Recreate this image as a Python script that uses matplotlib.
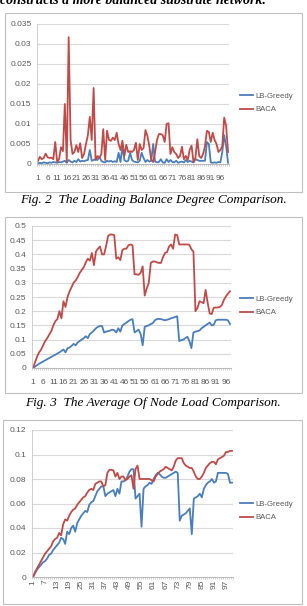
import numpy as np
import matplotlib
matplotlib.use("Agg")
import matplotlib.pyplot as plt
from matplotlib.patches import Rectangle

W, H = 307, 606

# Fig. 2 - loading balance degree (100 runs)
lbd_greedy = [0.0002,0.0003,0.0002,0.0004,0.0003,0.0002,0.0004,0.0003,0.0005,0.0004,
              0.0003,0.0005,0.0004,0.0006,0.0008,0.0003,0.0010,0.0006,0.0004,0.0008,
              0.0005,0.0012,0.0006,0.0008,0.0007,0.0009,0.0010,0.0035,0.0008,0.0010,
              0.0012,0.0010,0.0018,0.0008,0.0005,0.0004,0.0008,0.0006,0.0008,0.0005,
              0.0007,0.0005,0.0028,0.0005,0.0045,0.0010,0.0006,0.0008,0.0028,0.0010,
              0.0006,0.0005,0.0004,0.0008,0.0028,0.0015,0.0005,0.0010,0.0006,0.0008,
              0.0050,0.0006,0.0004,0.0005,0.0012,0.0004,0.0003,0.0012,0.0005,0.0010,
              0.0005,0.0004,0.0008,0.0003,0.0005,0.0006,0.0004,0.0010,0.0005,0.0008,
              0.0006,0.0004,0.0012,0.0010,0.0008,0.0008,0.0008,0.0008,0.0055,0.0050,
              0.0004,0.0003,0.0004,0.0003,0.0005,0.0004,0.0030,0.0072,0.0045,0.0003]
lbd_baca = [0.0008,0.0018,0.0012,0.0015,0.0026,0.0017,0.0015,0.0016,0.0012,0.0055,
            0.0005,0.0012,0.0042,0.0032,0.0150,0.0005,0.0317,0.0060,0.0025,0.0030,
            0.0047,0.0030,0.0052,0.0015,0.0025,0.0050,0.0072,0.0118,0.0060,0.0190,
            0.0010,0.0020,0.0015,0.0025,0.0087,0.0010,0.0083,0.0060,0.0058,0.0066,
            0.0060,0.0078,0.0050,0.0035,0.0058,0.0020,0.0048,0.0030,0.0032,0.0030,
            0.0035,0.0053,0.0010,0.0050,0.0035,0.0040,0.0085,0.0070,0.0045,0.0010,
            0.0005,0.0030,0.0060,0.0075,0.0075,0.0072,0.0055,0.0100,0.0102,0.0025,
            0.0042,0.0030,0.0025,0.0015,0.0020,0.0043,0.0012,0.0020,0.0010,0.0035,
            0.0046,0.0005,0.0015,0.0062,0.0020,0.0015,0.0025,0.0045,0.0083,0.0080,
            0.0055,0.0078,0.0060,0.0050,0.0030,0.0035,0.0045,0.0116,0.0095,0.0030]

# Fig. 3 - average node load (98 runs)
avg_greedy = [0.000,0.005,0.010,0.015,0.019,0.023,0.027,0.031,0.035,0.039,
              0.043,0.047,0.051,0.055,0.060,0.065,0.055,0.070,0.072,0.078,
              0.085,0.080,0.090,0.095,0.100,0.105,0.112,0.105,0.120,0.125,
              0.132,0.140,0.145,0.148,0.148,0.125,0.128,0.130,0.132,0.135,
              0.133,0.125,0.140,0.128,0.150,0.155,0.160,0.165,0.170,0.172,
              0.125,0.130,0.135,0.120,0.080,0.145,0.148,0.150,0.155,0.158,
              0.168,0.172,0.173,0.172,0.170,0.168,0.170,0.172,0.175,0.177,
              0.180,0.182,0.095,0.098,0.100,0.105,0.110,0.095,0.070,0.125,
              0.128,0.130,0.132,0.140,0.145,0.150,0.155,0.160,0.150,0.152,
              0.168,0.170,0.170,0.170,0.170,0.170,0.168,0.155]
avg_baca = [0.000,0.020,0.040,0.055,0.065,0.080,0.095,0.105,0.118,0.130,
            0.150,0.165,0.172,0.200,0.175,0.235,0.215,0.250,0.270,0.285,
            0.300,0.308,0.320,0.335,0.345,0.355,0.372,0.385,0.378,0.405,
            0.362,0.410,0.420,0.428,0.400,0.400,0.430,0.465,0.470,0.470,
            0.468,0.385,0.390,0.380,0.415,0.420,0.420,0.432,0.435,0.432,
            0.330,0.330,0.328,0.335,0.358,0.255,0.280,0.300,0.370,0.375,
            0.375,0.372,0.370,0.370,0.390,0.405,0.408,0.428,0.435,0.420,
            0.470,0.468,0.435,0.435,0.435,0.435,0.435,0.434,0.418,0.410,
            0.200,0.212,0.235,0.232,0.228,0.275,0.230,0.192,0.190,0.212,
            0.213,0.213,0.215,0.222,0.240,0.252,0.262,0.270]

# third comparison (100 runs)
c3_greedy = [0.000,0.003,0.006,0.008,0.010,0.012,0.013,0.015,0.018,0.019,
             0.022,0.024,0.026,0.028,0.032,0.031,0.027,0.037,0.035,0.040,
             0.042,0.037,0.044,0.047,0.050,0.052,0.054,0.053,0.059,0.061,
             0.062,0.066,0.070,0.072,0.074,0.074,0.066,0.068,0.069,0.070,
             0.071,0.066,0.072,0.068,0.078,0.078,0.079,0.082,0.086,0.088,
             0.088,0.064,0.066,0.068,0.041,0.072,0.074,0.075,0.077,0.076,
             0.080,0.083,0.085,0.084,0.082,0.081,0.081,0.082,0.083,0.084,
             0.085,0.086,0.085,0.046,0.050,0.051,0.052,0.054,0.056,0.035,
             0.064,0.065,0.066,0.068,0.065,0.072,0.075,0.077,0.078,0.080,
             0.077,0.078,0.085,0.085,0.085,0.085,0.085,0.084,0.077,0.077]
c3_baca = [0.000,0.004,0.007,0.010,0.013,0.016,0.019,0.021,0.023,0.025,
           0.029,0.031,0.032,0.036,0.034,0.043,0.047,0.046,0.050,0.053,
           0.055,0.056,0.059,0.061,0.063,0.065,0.066,0.069,0.071,0.072,
           0.071,0.076,0.077,0.078,0.078,0.074,0.075,0.085,0.0875,0.0875,
           0.087,0.082,0.085,0.080,0.082,0.082,0.079,0.080,0.082,0.083,
           0.072,0.088,0.091,0.080,0.080,0.080,0.080,0.080,0.080,0.079,
           0.078,0.082,0.084,0.086,0.087,0.088,0.090,0.089,0.088,0.087,
           0.090,0.095,0.097,0.097,0.097,0.093,0.091,0.090,0.089,0.089,
           0.086,0.082,0.080,0.080,0.082,0.085,0.089,0.091,0.093,0.094,
           0.094,0.092,0.096,0.097,0.098,0.099,0.102,0.102,0.103,0.103]

series_names = ["LB-Greedy", "BACA"]
captions = ["Fig. 2  The Loading Balance Degree Comparison.",
            "Fig. 3  The Average Of Node Load Comparison."]

BLUE = "#4a7ebb"
RED = "#be4b48"
GRID = "#d9d9d9"
TXT = "#595959"
SANS = "Liberation Sans"
SERIF = "Liberation Serif"

fig = plt.figure(figsize=(W / 100, H / 100), dpi=100)
fig.patch.set_facecolor("white")


def px_axes(x0, y0, x1, y1):
    # pixel box (top-left origin) -> figure axes
    return fig.add_axes([x0 / W, 1 - y1 / H, (x1 - x0) / W, (y1 - y0) / H])


def frame(x0, y0, x1, y1):
    fig.patches.append(Rectangle((x0 / W, 1 - y1 / H), (x1 - x0) / W, (y1 - y0) / H,
                                 transform=fig.transFigure, fill=False,
                                 edgecolor="#bfbfbf", lw=0.8))


def draw_chart(box, greedy, baca, ymax, ystep, tick_step, rot, xpad, leg_y):
    ax = px_axes(*box)
    n = len(greedy)
    x = np.arange(1, n + 1)
    ax.plot(x, greedy, color=BLUE, lw=1.3, label=series_names[0])
    ax.plot(x, baca, color=RED, lw=1.3, label=series_names[1])
    ax.set_xlim(0.5, n + 0.5)
    ax.set_ylim(0, ymax)
    yt = np.arange(0, ymax + ystep / 2, ystep)
    ax.set_yticks(yt)
    ax.set_yticklabels(["0" if v == 0 else f"{v:g}" for v in yt],
                       fontsize=6, family=SANS, color=TXT)
    xt = np.arange(1, n + 1, tick_step)
    ax.set_xticks(xt)
    ax.set_xticklabels([str(v) for v in xt], fontsize=6, family=SANS, color=TXT,
                       rotation=rot)
    ax.set_xticks(np.arange(0.5, n + 1, 1), minor=True)
    ax.tick_params(axis="x", which="minor", length=1.5, color="#b0b0b0", width=0.4)
    ax.tick_params(axis="x", which="major", length=0, pad=xpad)
    ax.tick_params(axis="y", length=0, pad=4)
    ax.grid(axis="y", color=GRID, lw=0.8)
    ax.set_axisbelow(True)
    for s in ["top", "right"]:
        ax.spines[s].set_visible(False)
    ax.spines["left"].set_color("#c8c8c8")
    ax.spines["bottom"].set_color("#b0b0b0")
    ax.spines["left"].set_linewidth(0.6)
    ax.spines["bottom"].set_linewidth(0.6)
    ax.legend(loc="center left", bbox_to_anchor=(240 / W, 1 - leg_y / H),
              bbox_transform=fig.transFigure, frameon=False, borderpad=0,
              borderaxespad=0, prop={"family": SANS, "size": 5.6},
              handlelength=1.7, handletextpad=0.25, labelspacing=0.75,
              labelcolor=TXT)
    return ax


# chart 1
frame(5, 13, 302, 192)
draw_chart((37, 24, 229, 164), lbd_greedy, lbd_baca, 0.035, 0.005, 5, 0, 8, 103)
# chart 2
frame(5, 217, 302, 393)
draw_chart((32, 226, 231, 368), avg_greedy, avg_baca, 0.5, 0.05, 5, 0, 8, 306)
# chart 3
frame(3, 420, 302, 604)
draw_chart((32, 430, 233, 577), c3_greedy, c3_baca, 0.12, 0.02, 6, 90, 2, 511)

# captions and the clipped line of body text above
fig.text(0.0, 1 - 4 / H, "constructs a more balanced substrate network.",
         fontsize=10, family=SERIF, fontweight="bold", fontstyle="italic",
         va="baseline", ha="left")
fig.text(153 / W, 1 - 200 / H, captions[0], fontsize=9.5, family=SERIF,
         fontstyle="italic", ha="center", va="center")
fig.text(153 / W, 1 - 403 / H, captions[1], fontsize=9.5, family=SERIF,
         fontstyle="italic", ha="center", va="center")

fig.savefig("out.png", dpi=100)
